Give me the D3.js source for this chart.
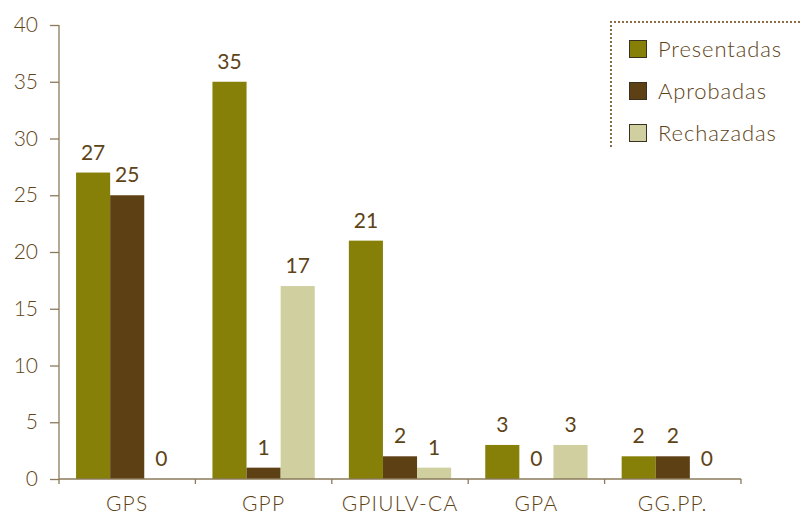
<!DOCTYPE html>
<html><head><meta charset="utf-8">
<script src="https://cdn.jsdelivr.net/npm/d3@7"></script>
<style>body{margin:0;background:#fff}text{font-family:Lato,"Open Sans",sans-serif;font-weight:300}</style>
</head><body><svg id="c" width="801" height="514"></svg>
<script>
const categories = ["GPS","GPP","GPIULV-CA","GPA","GG.PP."];
const seriesNames = ["Presentadas","Aprobadas","Rechazadas"];
const presentadas = [27,35,21,3,2];
const aprobadas = [25,1,2,0,2];
const rechazadas = [0,17,1,3,0];
const yTicks = [0,5,10,15,20,25,30,35,40];
const colors = ["#868008","#5e4015","#d0cfa0"];
const textColor = "#5e4317";
const axisColor = "#8b7a5a";

const series = [presentadas, aprobadas, rechazadas];
const svg = d3.select("#c");
const x0 = d3.scaleBand().domain(categories).range([59,741]).padding(0);
const bw = x0.bandwidth();
const x1 = d3.scaleBand().domain(seriesNames).range([bw*0.125, bw*0.875]).padding(0);
const y = d3.scaleLinear().domain([0,40]).range([479,25]);

// bars
categories.forEach((c,i)=>{
  const g = svg.append("g").attr("transform",`translate(${x0(c)},0)`);
  seriesNames.forEach((s,j)=>{
    const v = series[j][i];
    g.append("rect").attr("x",x1(s)).attr("width",x1.bandwidth())
      .attr("y",y(v)).attr("height",y(0)-y(v)).attr("fill",colors[j]);
    g.append("text").attr("x",x1(s)+x1.bandwidth()/2).attr("y",y(v)-13)
      .attr("text-anchor","middle").attr("font-size",21).style("font-weight",400).attr("fill",textColor).text(v);
  });
});

// y axis
const ya = svg.append("g").attr("transform","translate(59,0)")
  .call(d3.axisLeft(y).tickValues(yTicks).tickSize(9).tickPadding(12));
ya.selectAll("path,line").attr("stroke",axisColor).attr("stroke-width",1.3);
ya.selectAll("text").attr("font-size",21).attr("fill",textColor).style("font-family","Lato").style("font-weight",300);
ya.select(".domain").attr("d","M0,25V479");

// x axis
const xa = svg.append("g").attr("transform","translate(0,479)");
xa.append("line").attr("x1",59).attr("x2",741).attr("stroke",axisColor).attr("stroke-width",1.3);
const tickPos = categories.map(c=>x0(c)).concat([x0(categories[categories.length-1])+bw]);
tickPos.forEach(p=>xa.append("line").attr("x1",p).attr("x2",p).attr("y1",0).attr("y2",5).attr("stroke",axisColor).attr("stroke-width",1.3));
categories.forEach(c=>xa.append("text").attr("x",x0(c)+bw/2).attr("y",32)
  .attr("text-anchor","middle").attr("font-size",21).attr("letter-spacing",1.2).attr("fill",textColor).text(c));

// legend
const lg = svg.append("g");
lg.append("path").attr("d","M611,147V22H801").attr("fill","none")
  .attr("stroke","#8a6d45").attr("stroke-width",2).attr("stroke-dasharray","2,2");
seriesNames.forEach((s,j)=>{
  const cy = 49 + j*42;
  lg.append("rect").attr("x",629.5).attr("y",cy-8.5).attr("width",17).attr("height",17)
    .attr("fill",colors[j]).attr("stroke","#3a3020").attr("stroke-width",1);
  lg.append("text").attr("x",658).attr("y",cy+8).attr("font-size",22).attr("letter-spacing",0.9).attr("fill",textColor).text(s);
});
</script></body></html>
